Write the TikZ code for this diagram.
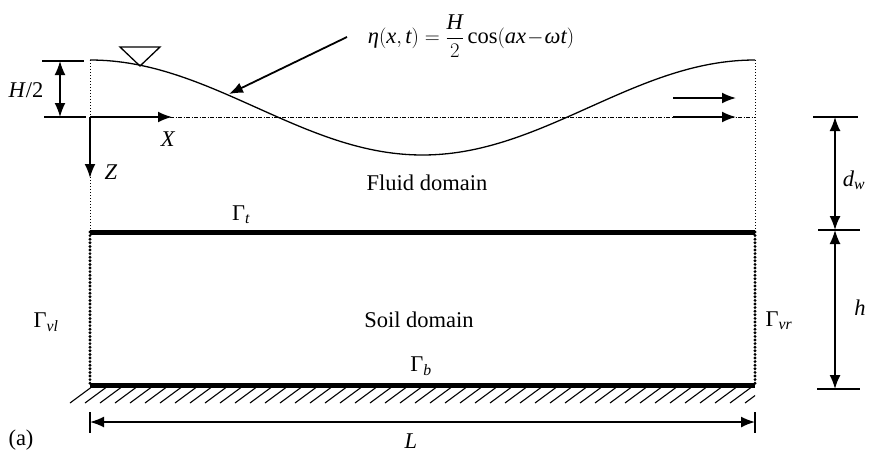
\documentclass[tikz,border=0pt]{standalone}
\usepackage{amsmath}
\usepackage{fontspec}
\setmainfont{Liberation Serif}
\usetikzlibrary{arrows.meta}
\newcommand\vi[1]{\textit{#1}}
\begin{document}
\begin{tikzpicture}[x=1pt,y=-1pt,
  lbl/.style={font=\fontsize{22.5}{26}\selectfont, inner sep=0pt},
  arr/.style={line width=1.8pt,-{Latex[length=14pt,width=11pt]}},
  dimarr/.style={line width=1.6pt,{Latex[length=14pt,width=11pt]}-{Latex[length=14pt,width=11pt]}},
  tick/.style={line width=1.3pt},
  thinDot/.style={line width=0.9pt,dash pattern=on 1pt off 2pt},
  soilDot/.style={line width=3.2pt,line cap=round,dash pattern=on 0pt off 3.6pt},
  boundary/.style={line width=5pt},
  mwl/.style={line width=0.9pt,dash pattern=on 4pt off 1.5pt on 1pt off 1.5pt}]
\useasboundingbox (0,0) rectangle (873,453);
% corner coordinates
\coordinate (tl) at (90,60);
\coordinate (tr) at (755,60);
\coordinate (ml) at (90,117);
\coordinate (mr) at (755,117);
\coordinate (gtl) at (90,232);
\coordinate (gtr) at (755,232);
\coordinate (gbl) at (90,385);
\coordinate (gbr) at (755,385);
% vertical sides
\draw[thinDot] (tl) -- (gtl);
\draw[thinDot] (tr) -- (gtr);
\draw[soilDot] (gtl) -- (gbl);
\draw[soilDot] (gtr) -- (gbr);
% mean water level
\draw[mwl] (ml) -- (mr);
% wave
\draw[line width=1.3pt] plot[domain=90:755,samples=120] (\x,{107.5-47.5*cos((\x-90)/665*360)});
% boundaries
\draw[boundary] (gtl) -- (gtr);
\draw[boundary] (gbl) -- (gbr);
% hatching
\begin{scope}
\clip (60,386) rectangle (755,410);
\foreach \i in {0,...,46} {
  \draw[line width=1.1pt] (70+15*\i,403) -- (93+15*\i,386);
}
\end{scope}
% water level symbol
\coordinate (tri1) at (120,47);
\coordinate (tri2) at (160,47);
\coordinate (tri3) at (140,66);
\draw[line width=1.3pt] (tri1) -- (tri2) -- (tri3) -- cycle;
% H/2 dimension
\coordinate (h2a) at (42,61);
\coordinate (h2b) at (84,61);
\coordinate (h2c) at (44,117);
\coordinate (h2d) at (86,117);
\coordinate (h2t) at (60,61);
\coordinate (h2u) at (60,117);
\draw[tick] (h2a) -- (h2b);
\draw[tick] (h2c) -- (h2d);
\draw[dimarr] (h2t) -- (h2u);
\node[lbl] (lH) at (26,90) {\vi{H}/2};
% axes
\coordinate (xe) at (172,117);
\coordinate (ze) at (90,178);
\draw[arr] (ml) -- (xe);
\draw[arr] (ml) -- (ze);
\node[lbl] (lX) at (168,139) {\vi{X}};
\node[lbl] (lZ) at (111,172) {\vi{Z}};
% equation
\node[lbl] (eq) at (471,36) {$\vi{η}(\vi{x},\vi{t})=\dfrac{\vi{H}}{2}\,\textrm{cos}(\vi{a}\vi{x}\!-\!\vi{ω}\vi{t})$};
\coordinate (eqs) at (347,37);
\coordinate (eqt) at (229,94);
\draw[arr] (eqs) -- (eqt);
% propagation arrows
\coordinate (pa1) at (673,98);
\coordinate (pa2) at (736,98);
\coordinate (pb1) at (673,117);
\coordinate (pb2) at (736,117);
\draw[arr] (pa1) -- (pa2);
\draw[arr] (pb1) -- (pb2);
% d_w and h dimension
\coordinate (dt1) at (813,117);
\coordinate (dt2) at (858,117);
\coordinate (dm1) at (818,230);
\coordinate (dm2) at (860,230);
\coordinate (db1) at (817,389);
\coordinate (db2) at (860,389);
\coordinate (dwa) at (835,117);
\coordinate (dwb) at (835,230);
\coordinate (dhb) at (835,389);
\draw[tick] (dt1) -- (dt2);
\draw[tick] (dm1) -- (dm2);
\draw[tick] (db1) -- (db2);
\draw[dimarr] (dwa) -- (dwb);
\draw[dimarr] (dwb) -- (dhb);
\node[lbl] (ldw) at (854,180) {$\vi{d}_{\vi{w}}$};
\node[lbl] (lh) at (860,308) {\vi{h}};
% L dimension
\coordinate (La) at (90,422);
\coordinate (Lb) at (755,422);
\coordinate (Lt1) at (90,412);
\coordinate (Lt2) at (90,433);
\coordinate (Lt3) at (755,412);
\coordinate (Lt4) at (755,433);
\draw[tick] (Lt1) -- (Lt2);
\draw[tick] (Lt3) -- (Lt4);
\draw[dimarr] (La) -- (Lb);
\node[lbl] (lL) at (411,441) {\vi{L}};
\node[lbl] (la) at (21,440) {(a)};
% domain labels
\node[lbl] (fd) at (427,183) {Fluid domain};
\node[lbl] (sd) at (419,320) {Soil domain};
\node[lbl] (gt) at (241,215) {$\textrm{Γ}_{\vi{t}}$};
\node[lbl] (gb) at (421,366) {$\textrm{Γ}_{\vi{b}}$};
\node[lbl] (gvl) at (46,322) {$\textrm{Γ}_{\vi{vl}}$};
\node[lbl] (gvr) at (779,321) {$\textrm{Γ}_{\vi{vr}}$};
\end{tikzpicture}
\end{document}
